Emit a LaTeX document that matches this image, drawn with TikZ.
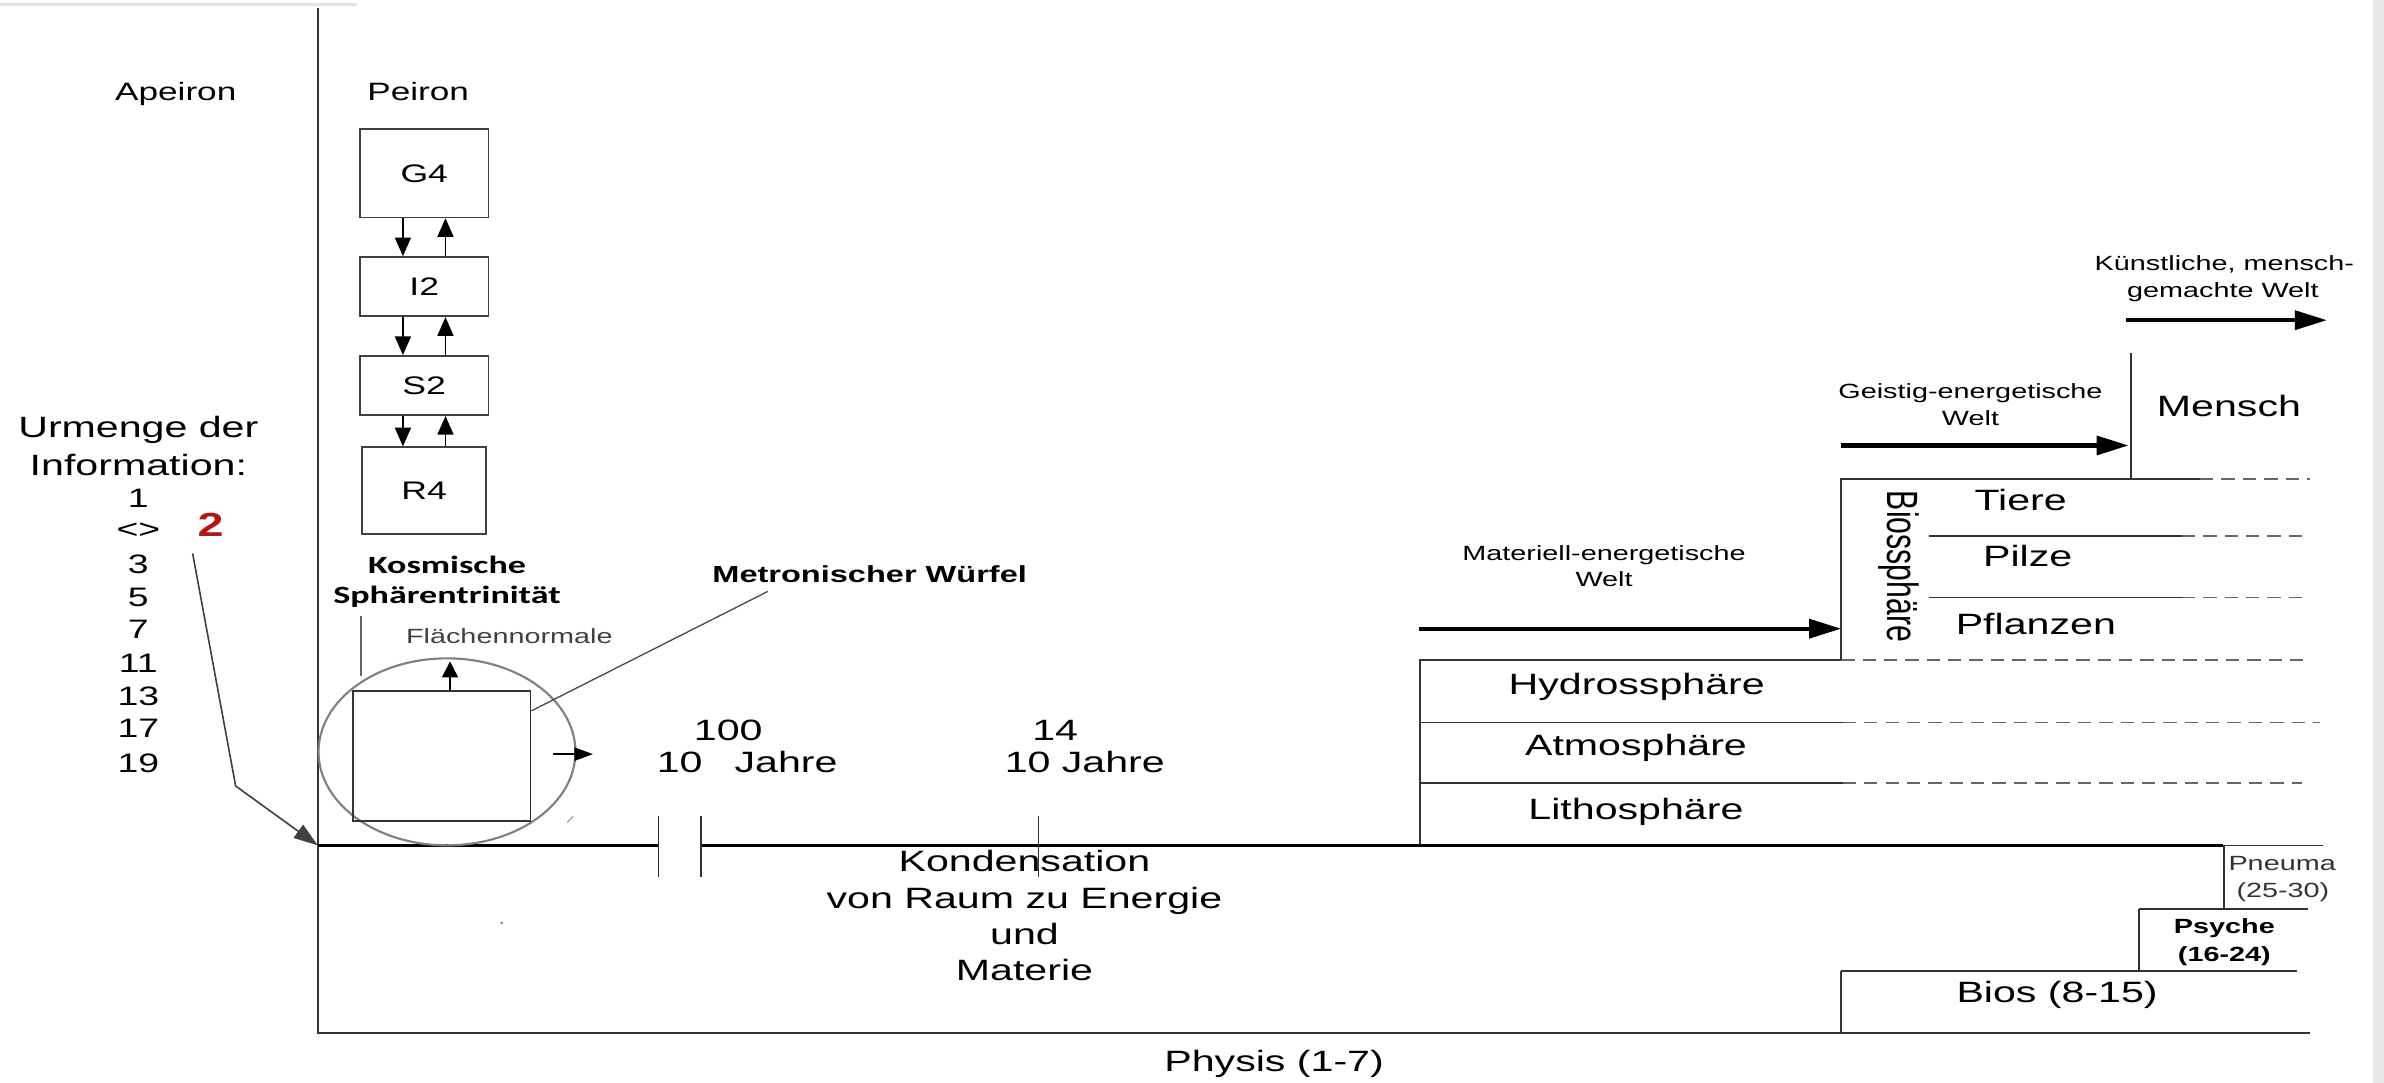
\documentclass[tikz,border=0pt]{standalone}
\usepackage{fontspec}
\setmainfont[FakeStretch=1.4]{Liberation Sans}
\newfontfamily\calibri[FakeStretch=1.45]{Carlito}
\newfontfamily\schlicht{Liberation Sans}
\usetikzlibrary{arrows.meta,positioning}
\definecolor{dunkelrot}{RGB}{178,24,24}
\definecolor{rand}{RGB}{220,228,238}

\tikzset{
  kasten/.style={draw=black!75, line width=0.6pt, minimum width=1.69cm, inner sep=0pt, font=\fontsize{9.5}{11}\selectfont},
  gross/.style={font=\fontsize{11}{13}\selectfont, anchor=base, inner sep=0pt},
  mittel/.style={font=\fontsize{9.4}{11}\selectfont, anchor=base, inner sep=0pt},
  zahl/.style={font=\fontsize{10}{12}\selectfont, anchor=base, inner sep=0pt},
  klein/.style={font=\fontsize{7.7}{9}\selectfont, anchor=base, inner sep=0pt},
  fett/.style={font=\calibri\bfseries\fontsize{9.3}{11}\selectfont, anchor=base, inner sep=0pt},
  pfeil/.style={line width=0.6pt, -{Triangle[length=7pt,width=6pt]}},
  weltpfeil/.style={line width=1.6pt, -{Triangle[length=12pt,width=7pt]}},
  linie/.style={black!80, line width=0.6pt},
  strich/.style={black!60, line width=0.6pt, dash pattern=on 5pt off 3pt},
}

\begin{document}
\begin{tikzpicture}[x=0.02cm, y=-0.02cm]
\useasboundingbox (0,0) rectangle (1568,712);
\draw[rand, line width=0.8pt] (0,3) -- (235,3);
\fill[black!9] (1561,0) rectangle (1568,712);

% Achsen
\coordinate (O) at (209,556);
\draw[linie] (209,5) -- (O) -- (209,679.5) -- (1519,679.5);
\draw[line width=1.2pt] (O) -- (433,556);
\draw[line width=1.2pt] (461,556) -- (1462,556);
\draw[linie] (1462,556) -- (1528,556);
\foreach \x in {433,461,683} \draw[linie] (\x,537) -- (\x,577);

\node[mittel] (apeiron) at (115.6,65.8) {Apeiron};
\node[mittel] (peiron) at (275,65.8) {Peiron};

% Peiron
\node[kasten, minimum height=1.16cm] (G4) at (279,114) {G4};
\node[kasten, minimum height=0.78cm, below=0.5cm of G4] (I2) {I2};
\node[kasten, minimum height=0.78cm, below=0.5cm of I2] (S2) {S2};
\node[kasten, minimum height=1.14cm, minimum width=1.63cm, below=0.4cm of S2] (R4) {R4};
\foreach \a/\b in {G4/I2, I2/S2, S2/R4} {
  \draw[pfeil] ([xshift=-0.28cm]\a.south) -- ([xshift=-0.28cm]\b.north);
  \draw[pfeil] ([xshift=0.28cm]\b.north) -- ([xshift=0.28cm]\a.south);
}

% Urmenge
\node[gross] (urmenge) at (91,288) {Urmenge der};
\node[gross] (information) at (91,312.5) {Information:};
\foreach \z/\y [count=\i] in {1/334, <>/354, 3/377, 5/399, 7/420, 11/442, 13/464, 17/485, 19/508}
  \node[zahl] (zahl\i) at (91,\y) {\z};
\node[font=\bfseries\fontsize{12.5}{14}\selectfont, text=dunkelrot, anchor=base, inner sep=0pt] (zwei) at (138.5,353) {2};
\coordinate (zstart) at (126.7,364);
\draw[black!75, line width=0.6pt, -{Triangle[length=9pt,width=6pt]}] (zstart) -- (155,517) -- (O);

% Sphaerentrinitaet
\node[fett] (kosmisch) at (294,377) {Kosmische};
\node[fett] (sphaere) at (294,397) {Sphärentrinität};
\draw[black!60, line width=0.6pt] (237.5,405) -- (237.5,444.6);
\node[klein, text=black!75] (flaeche) at (335,423) {Flächennormale};
\draw[black!50, line width=0.8pt] (294,494.5) ellipse [x radius=1.69cm, y radius=1.23cm];
\node[draw=black!80, line width=0.6pt, minimum width=2.34cm, minimum height=1.71cm, inner sep=0pt] (wuerfel) at (290.5,497.3) {};
\coordinate (normale) at (296,435);
\draw[line width=0.6pt, -{Triangle[length=6pt,width=6pt]}] (wuerfel.north -| normale) -- (normale);
\coordinate (r1) at (363.5,496);
\coordinate (r2) at (390,496);
\draw[line width=0.6pt, -{Triangle[length=7pt,width=5pt]}] (r1) -- (r2);
\draw[black!40, line width=0.4pt] (373,541) -- (377,537);
\fill[black!60] (330,607) circle (0.5pt);

\node[font=\bfseries\fontsize{8.7}{10}\selectfont, anchor=base, inner sep=0pt] (metro) at (572,383) {Metronischer Würfel};
\coordinate (mw) at (505,389);
\draw[black!70, line width=0.5pt] ([yshift=-0.27cm]wuerfel.north east) -- (mw);

% Zeit
\node[gross] (hundert) at (479,487) {100};
\node[gross] (zehna) at (447,508) {10};
\node[gross] (jahrea) at (517,508) {Jahre};
\node[gross] (vierzehn) at (694,487) {14};
\node[gross] (jahreb) at (713.5,508) {10 Jahre};

\node[gross] (kond) at (673.8,573.3) {Kondensation};
\node[gross] (raum) at (673.8,597.4) {von Raum zu Energie};
\node[gross] (und) at (673.8,621.5) {und};
\node[gross] (materie) at (673.8,644.6) {Materie};
\node[gross] (physis) at (838,705) {Physis (1-7)};

% Sphaeren
\draw[linie] (934,556) -- (934,434) -- (1211,434) -- (1211,315) -- (1447,315);
\draw[linie] (1401.6,315) -- (1401.6,232);
\draw[strich] (1447,315) -- (1519,315);
\draw[strich] (1211,434) -- (1515,434);
\draw[linie] (934,475.3) -- (1212,475.3);
\draw[strich] (1212,475.3) -- (1526,475.3);
\draw[linie] (934,515) -- (1212,515);
\draw[strich] (1212,515) -- (1514,515);
\draw[linie] (1269,352.5) -- (1435,352.5);
\draw[strich] (1435,352.5) -- (1517,352.5);
\draw[linie] (1269,393) -- (1435,393);
\draw[strich] (1435,393) -- (1517,393);

\node[gross] (hydro) at (1076.5,457) {Hydrossphäre};
\node[gross] (atmo) at (1076,496.6) {Atmosphäre};
\node[gross] (litho) at (1076,539.3) {Lithosphäre};
\node[gross] (tiere) at (1329,336) {Tiere};
\node[gross] (pilze) at (1333.6,372.7) {Pilze};
\node[gross] (pflanzen) at (1339,417.6) {Pflanzen};
\node[gross] (mensch) at (1466,274) {Mensch};
\node[font=\schlicht\fontsize{11.3}{13}\selectfont, rotate=-90, inner sep=0pt] (bio) at (1249,372.6) {\scalebox{1}[1.45]{Biossphäre}};

\node[klein] (mat1) at (1055,368.8) {Materiell-energetische};
\node[klein] (mat2) at (1055,385.9) {Welt};
\node[klein] (geist1) at (1296,262) {Geistig-energetische};
\node[klein] (geist2) at (1296,280) {Welt};
\node[klein] (kuenst1) at (1463,178) {Künstliche, mensch-};
\node[klein] (kuenst2) at (1462,196) {gemachte Welt};

\coordinate (ma) at (933,413.5);
\coordinate (mb) at (1211,413.5);
\coordinate (ga) at (1211,293);
\coordinate (gb) at (1400,293);
\coordinate (ka) at (1398,210.6);
\coordinate (kb) at (1530.5,210.6);
\draw[weltpfeil] (ma) -- (mb);
\draw[weltpfeil] (ga) -- (gb);
\draw[weltpfeil] (ka) -- (kb);

% Pneuma, Psyche, Bios
\draw[linie] (1462.6,556) -- (1462.6,598);
\draw[linie] (1407,598) -- (1518,598);
\draw[linie] (1407,598) -- (1407,638.7);
\draw[linie] (1211,638.7) -- (1510.5,638.7);
\draw[linie] (1211,638.7) -- (1211,679.5);
\node[klein, text=black!80] (pneuma) at (1501,572.7) {Pneuma};
\node[klein, text=black!80] (pneumaz) at (1501.5,590) {(25-30)};
\node[klein, font=\bfseries\fontsize{7.7}{9}\selectfont] (psyche) at (1463,614) {Psyche};
\node[klein, font=\bfseries\fontsize{7.7}{9}\selectfont] (psychez) at (1463,632.5) {(16-24)};
\node[gross] (bios) at (1353,659.5) {Bios (8-15)};
\end{tikzpicture}
\end{document}
